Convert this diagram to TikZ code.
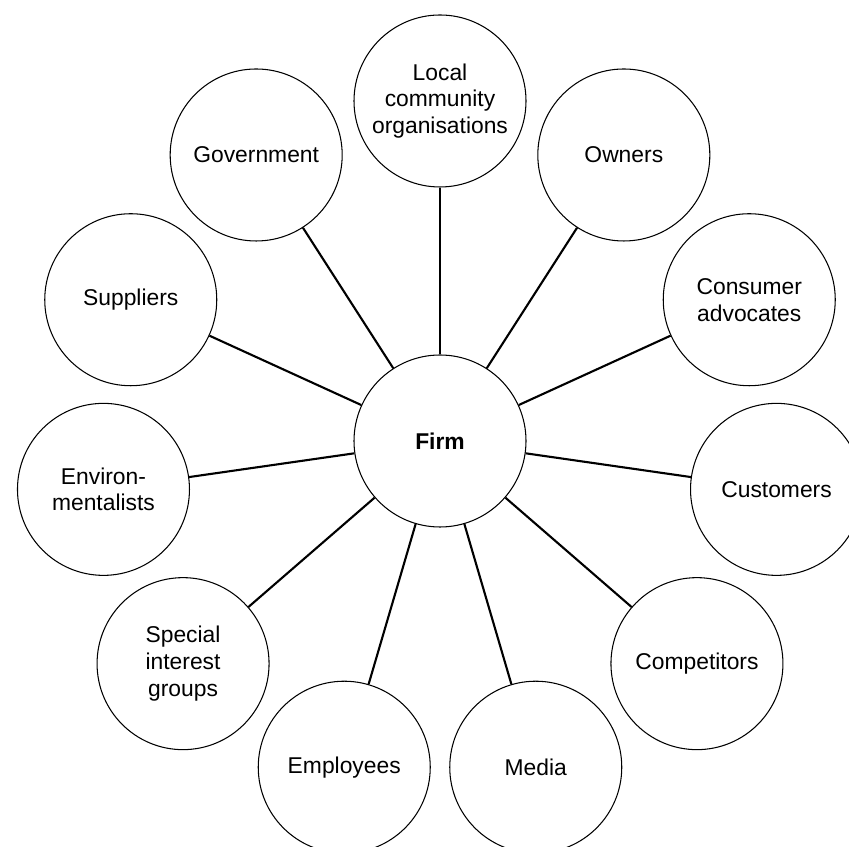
\documentclass[tikz,border=0pt]{standalone}
\usepackage{fontspec}
\setmainfont{Liberation Sans}
\usepackage{tikz}
\usetikzlibrary{calc}
\tikzset{st/.style={draw, circle, minimum size=3.44cm, inner sep=0pt, align=center,
  line width=.6pt, font=\fontsize{13}{15.3}\selectfont}}
\tikzset{ln/.style={line width=1.2pt}}

\begin{document}
\begin{tikzpicture}
    \useasboundingbox (0,0) rectangle (16.98,16.92);
    \node[st, font=\fontsize{13}{15.3}\selectfont\bfseries] (firm) at (8.8,8.1) {Firm};
    \foreach \a/\n/\t in {90/local/{Local\\community\\organisations},
        57.27/owners/{Owners},
        24.55/advocates/{Consumer\\advocates},
        -8.18/customers/{Customers},
        -40.91/competitors/{Competitors},
        -73.64/media/{Media},
        -106.36/employees/{Employees},
        -139.09/special/{Special\\interest\\groups},
        -171.82/environ/{Environ-\\mentalists},
        155.45/suppliers/{Suppliers},
        122.73/government/{Government}}
    {
      \node[st] (\n) at ($(firm)+(\a:6.8)$) {\t};
      \draw[ln] (firm) -- (\n);
    }
\end{tikzpicture}
\end{document}
